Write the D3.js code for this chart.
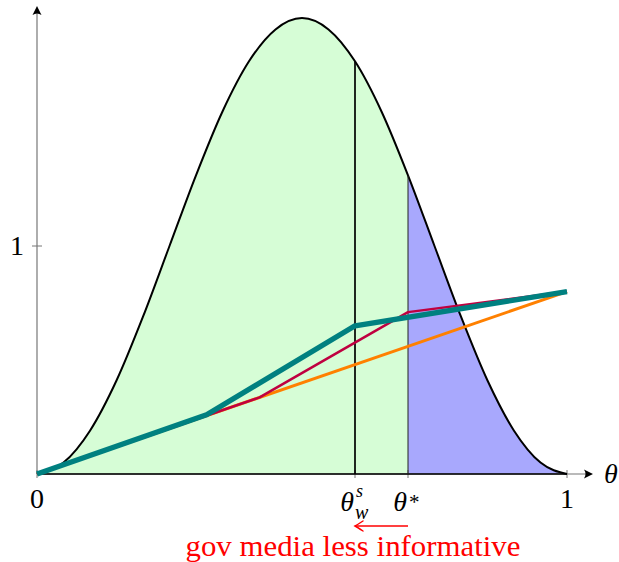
<!DOCTYPE html>
<html><head><meta charset="utf-8">
<script src="https://cdn.jsdelivr.net/npm/d3@7"></script>
<style>body{margin:0;background:#fff}</style>
</head><body>
<svg id="chart" width="619" height="562"></svg>
<script>
// Prior density over theta
const thetaGrid = [0, 0.05, 0.10, 0.15, 0.20, 0.25, 0.30, 0.35, 0.40, 0.45, 0.50,
                   0.55, 0.60, 0.65, 0.70, 0.75, 0.80, 0.85, 0.90, 0.95, 1.00];
const density = [0, 0.05, 0.19, 0.41, 0.69, 1.00, 1.31, 1.59, 1.81, 1.95, 2.00,
                 1.95, 1.81, 1.59, 1.31, 1.00, 0.69, 0.41, 0.19, 0.05, 0];

// Thresholds
const thetaWs = 0.6;
const thetaStar = 0.7;

// Piecewise-linear functions
const orangeTheta = [0, 1];
const orangeVal = [0, 0.8];
const purpleTheta = [0, 0.42, 0.7, 1];
const purpleVal = [0, 0.336, 0.71, 0.8];
const tealTheta = [0, 0.32, 0.6, 1];
const tealVal = [0, 0.26, 0.65, 0.8];

const yTicks = [1];
const xTicks = [0, 1];

const svg = d3.select("#chart");
const x = d3.scaleLinear().domain([0, 1]).range([37, 567]);
const y = d3.scaleLinear().domain([0, 2]).range([474, 18]);

const FONT = "'Liberation Serif', 'DejaVu Serif', serif";
const densityPts = thetaGrid.map((t, i) => [t, density[i]]);
const densAt = t => density[thetaGrid.findIndex(g => Math.abs(g - t) < 1e-9)];

const defs = svg.append("defs");
defs.append("clipPath").attr("id", "clipLeft").append("rect")
  .attr("x", 0).attr("y", 0).attr("width", x(thetaStar)).attr("height", 562);
defs.append("clipPath").attr("id", "clipRight").append("rect")
  .attr("x", x(thetaStar)).attr("y", 0).attr("width", 619).attr("height", 562);

const area = d3.area().x(d => x(d[0])).y0(y(0)).y1(d => y(d[1])).curve(d3.curveMonotoneX);
const curve = d3.line().x(d => x(d[0])).y(d => y(d[1])).curve(d3.curveMonotoneX);

svg.append("path").datum(densityPts).attr("d", area)
  .attr("fill", "#d6fdd6").attr("clip-path", "url(#clipLeft)");
svg.append("path").datum(densityPts).attr("d", area)
  .attr("fill", "#a8a8fd").attr("clip-path", "url(#clipRight)");

// Axes (gray lines with black arrow heads)
const axisColor = "#777";
svg.append("line").attr("x1", x(0)).attr("x2", x(1) + 24).attr("y1", y(0)).attr("y2", y(0))
  .attr("stroke", axisColor).attr("stroke-width", 1.2);
svg.append("line").attr("x1", x(0)).attr("x2", x(0)).attr("y1", y(0)).attr("y2", y(2) - 10)
  .attr("stroke", axisColor).attr("stroke-width", 1.2);

function arrowHead(tx, ty, angle, color, filled) {
  const g = svg.append("g").attr("transform", `translate(${tx},${ty}) rotate(${angle})`);
  if (filled) {
    g.append("path").attr("d", "M0,0 L-9,-4.5 Q-6,0 -9,4.5 Z").attr("fill", color);
  } else {
    g.append("path").attr("d", "M-8,-5 Q-2,-1 0,0 Q-2,1 -8,5")
      .attr("fill", "none").attr("stroke", color).attr("stroke-width", 1.4).attr("stroke-linecap", "round");
  }
}
arrowHead(x(1) + 26, y(0), 0, "#000", true);
arrowHead(x(0), y(2) - 12, -90, "#000", true);

// Ticks
[0, thetaWs, thetaStar, 1].forEach(t => {
  svg.append("line").attr("x1", x(t)).attr("x2", x(t)).attr("y1", y(0) - 4).attr("y2", y(0) + 4)
    .attr("stroke", axisColor).attr("stroke-width", 1);
});
yTicks.forEach(v => {
  svg.append("line").attr("x1", x(0) - 5).attr("x2", x(0) + 5).attr("y1", y(v)).attr("y2", y(v))
    .attr("stroke", axisColor).attr("stroke-width", 1);
  svg.append("text").attr("x", x(0) - 13).attr("y", y(v) + 9).attr("text-anchor", "end")
    .attr("font-family", FONT).attr("font-size", 28).text(String(v));
});
xTicks.forEach(v => {
  svg.append("text").attr("x", x(v)).attr("y", y(0) + 34).attr("text-anchor", "middle")
    .attr("font-family", FONT).attr("font-size", 28).text(String(v));
});

// Baseline under the density and the density curve
svg.append("line").attr("x1", x(0)).attr("x2", x(1)).attr("y1", y(0)).attr("y2", y(0))
  .attr("stroke", "#000").attr("stroke-width", 1.6);
svg.append("path").datum(densityPts).attr("d", curve)
  .attr("fill", "none").attr("stroke", "#000").attr("stroke-width", 2);

// Threshold verticals
svg.append("line").attr("x1", x(thetaWs)).attr("x2", x(thetaWs)).attr("y1", y(0)).attr("y2", y(densAt(thetaWs)))
  .attr("stroke", "#000").attr("stroke-width", 1.7);
svg.append("line").attr("x1", x(thetaStar)).attr("x2", x(thetaStar)).attr("y1", y(0)).attr("y2", y(densAt(thetaStar)))
  .attr("stroke", "#222").attr("stroke-width", 1);

// Piecewise-linear curves
const pl = d3.line().x(d => x(d[0])).y(d => y(d[1]));
svg.append("path").attr("d", pl(orangeTheta.map((t, i) => [t, orangeVal[i]])))
  .attr("fill", "none").attr("stroke", "#ff8000").attr("stroke-width", 3);
svg.append("path").attr("d", pl(purpleTheta.map((t, i) => [t, purpleVal[i]])))
  .attr("fill", "none").attr("stroke", "#bf0040").attr("stroke-width", 2.5).attr("stroke-linejoin", "round");
svg.append("path").attr("d", pl(tealTheta.map((t, i) => [t, tealVal[i]])))
  .attr("fill", "none").attr("stroke", "#008080").attr("stroke-width", 5.4).attr("stroke-linejoin", "round");

// Axis label
svg.append("text").attr("x", x(1) + 37).attr("y", y(0) + 9)
  .attr("font-family", FONT).attr("font-style", "italic").attr("font-size", 28).text("θ");

// Threshold tick labels
const ws = svg.append("g");
ws.append("text").attr("x", x(thetaWs) - 1).attr("y", y(0) + 37).attr("text-anchor", "end")
  .attr("font-family", FONT).attr("font-style", "italic").attr("font-size", 28).text("θ");
ws.append("text").attr("x", x(thetaWs) + 0).attr("y", y(0) + 45)
  .attr("font-family", FONT).attr("font-style", "italic").attr("font-size", 20).text("w");
ws.append("text").attr("x", x(thetaWs) + 1).attr("y", y(0) + 23)
  .attr("font-family", FONT).attr("font-style", "italic").attr("font-size", 18).text("s");
const ts = svg.append("g");
ts.append("text").attr("x", x(thetaStar) - 1).attr("y", y(0) + 37).attr("text-anchor", "end")
  .attr("font-family", FONT).attr("font-style", "italic").attr("font-size", 28).text("θ");
ts.append("text").attr("x", x(thetaStar) + 1).attr("y", y(0) + 35)
  .attr("font-family", FONT).attr("font-size", 21).text("*");

// Direction note
const arrowY = 526;
svg.append("line").attr("x1", x(thetaStar)).attr("x2", x(thetaWs) + 1).attr("y1", arrowY).attr("y2", arrowY)
  .attr("stroke", "#ff0000").attr("stroke-width", 1.6);
arrowHead(x(thetaWs), arrowY, 180, "#ff0000", false);
svg.append("text").attr("x", x(thetaWs) - 2).attr("y", 556).attr("text-anchor", "middle")
  .attr("font-family", FONT).attr("font-size", 29).attr("fill", "#ff0000")
  .attr("textLength", 335).attr("lengthAdjust", "spacingAndGlyphs")
  .text("gov media less informative");
</script>
</body></html>
